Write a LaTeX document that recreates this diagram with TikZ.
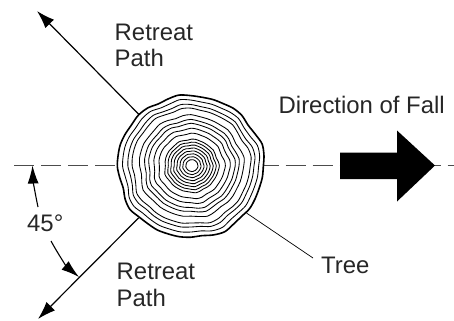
\documentclass[tikz,border=0pt]{standalone}
\usepackage{fontspec}
\setmainfont{Liberation Sans}
\usetikzlibrary{arrows.meta}
\tikzset{
  lab/.style={inner sep=0pt,text=black!85,font=\fontsize{24}{26}\selectfont,align=left},
  ring/.style={line width=0.85bp,line join=round},
  outerring/.style={line width=1.6bp,line join=round},
  axisline/.style={line width=0.7bp,black!70,dash pattern=on 20bp off 7bp},
  path/.style={line width=1.2bp,-{Latex[length=18bp,width=12bp]}},
  anglearrow/.style={line width=1.1bp,-{Latex[length=18bp,width=11bp]}},
}
\newcommand{\ringpath}[2]{%
  plot[smooth cycle,samples=40,domain=0:351,variable=\t]
  ({192-#1*.02+#1*(1+#2*(sin(5*\t+#1*2)*.9+sin(9*\t+#1*3)*.7+sin(13*\t+40+#1*4)*.5))*cos(\t)},
   {165.5+.014*#1+#1*(0.975+#2*(sin(4*\t+70+#1*2)*.5+sin(9*\t+#1*3)*.7+sin(13*\t+40+#1*4)*.5))*sin(\t)})}
\begin{document}
\begin{tikzpicture}[x=1bp,y=-1bp]
\useasboundingbox (0,0) rectangle (454,320);
\node[circle,minimum size=146bp,inner sep=0pt] (tree) at (190.5,166) {};
\coordinate (axisL) at (14,165.5);
\coordinate (axisR) at (454,165.5);
\coordinate (retreatNW) at (37,11);
\coordinate (retreatSW) at (38,319);
\coordinate (leaderEnd) at (313,258);
\draw[axisline] (axisL) -- (tree.west |- axisL);
\draw[axisline,dash phase=5bp] (tree.east |- axisR) -- (axisR);
\draw[path] (tree.135) -- (retreatNW);
\draw[path] (tree.225) -- (retreatSW);
\draw[line width=0.7bp] (tree.-40) -- (leaderEnd);
\foreach \r in {6,9,12,15,18,21,24,27,33,38,43,47,52,59,63,68}
  \draw[ring] \ringpath{\r}{0.02};
\draw[outerring] \ringpath{73}{0.017};
\fill[black] (340,152.5) -- (397,152.5) -- (397,130.5) -- (435,165.5) -- (397,201.5) -- (397,179) -- (340,179) -- cycle;
\draw[anglearrow] (38,207) .. controls (35,193) and (33,180) .. (32.5,165.5);
\draw[anglearrow] (51,241) .. controls (58,254) and (67,267) .. (79,277);
\node[lab,anchor=base west] (angle) at (27,231) {45°};
\node[lab,anchor=base west] (t1) at (278.5,113) {Direction of Fall};
\node[lab,anchor=base west] (t2) at (321,273) {Tree};
\node[lab,anchor=base west] (t3) at (114.5,40) {Retreat};
\node[lab,anchor=base west] (t3b) at (114.5,66) {Path};
\node[lab,anchor=base west] (t4) at (116.5,279) {Retreat};
\node[lab,anchor=base west] (t4b) at (116.5,306) {Path};
\end{tikzpicture}
\end{document}
